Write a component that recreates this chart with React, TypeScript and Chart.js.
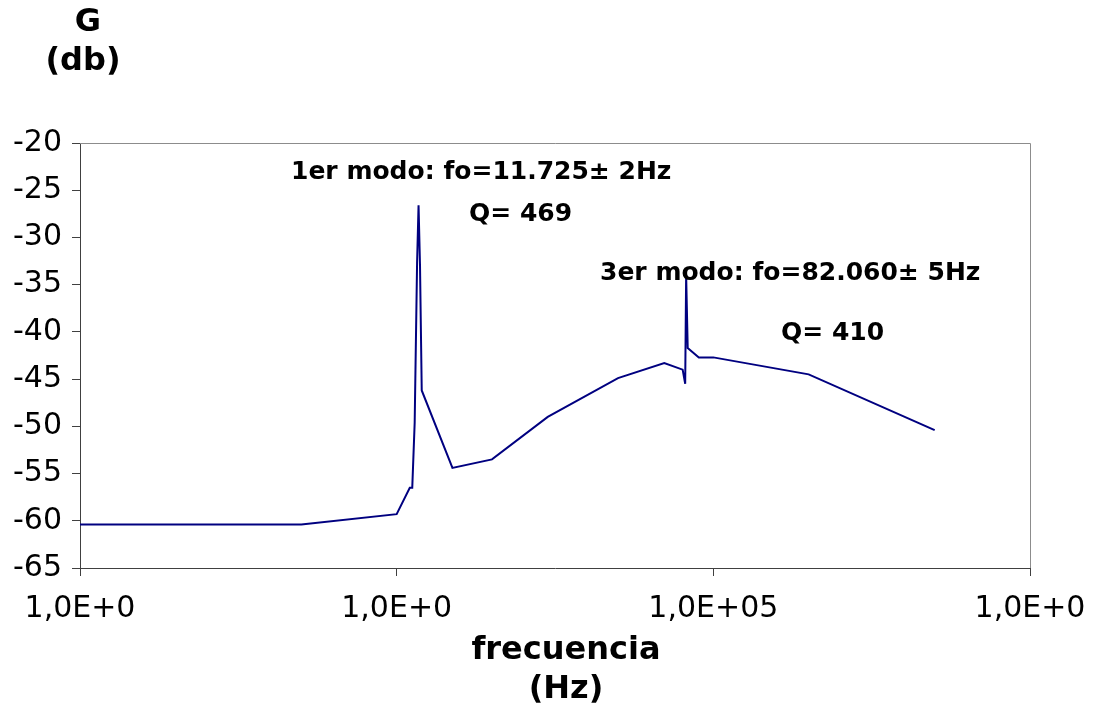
import React, { useEffect, useRef } from "react";
import { Chart, registerables } from "chart.js";

Chart.register(...registerables);

const freqHz = [1000, 5000, 10000, 11000, 11200, 11400, 11600, 11725, 11850, 12000, 15000, 20000, 30000, 50000, 70000, 80000, 81500, 82060, 83000, 90000, 100000, 200000, 500000];
const gainDb = [-60.4, -60.4, -59.3, -56.5, -56.5, -49.6, -32.7, -26.6, -33.0, -46.2, -54.4, -53.5, -49.0, -44.9, -43.3, -44.0, -45.5, -34.0, -41.7, -42.7, -42.7, -44.5, -50.4];
const xTickValues = [1e3, 1e4, 1e5, 1e6];
const xTickLabels = ["1,0E+0", "1,0E+0", "1,0E+05", "1,0E+0"];
const yTitleLines = ["G", "(db)"];
const xTitleLines = ["frecuencia", "(Hz)"];
const noteTexts = ["1er modo: fo=11.725± 2Hz", "Q= 469", "3er modo: fo=82.060± 5Hz", "Q= 410"];

const FONT = "'DejaVu Sans', Verdana, sans-serif";

export default function App() {
  const ref = useRef<HTMLCanvasElement | null>(null);
  useEffect(() => {
    const canvas = ref.current;
    if (!canvas) return;
    const textPlugin = {
      id: "texts",
      afterDraw(chart: any) {
        const ctx = chart.ctx;
        const a = chart.chartArea;
        ctx.save();
        ctx.strokeStyle = "#8c8c8c";
        ctx.lineWidth = 1;
        ctx.beginPath();
        ctx.moveTo(a.left, a.top + 0.5);
        ctx.lineTo(a.right + 0.5, a.top + 0.5);
        ctx.lineTo(a.right + 0.5, a.bottom);
        ctx.stroke();
        ctx.fillStyle = "#000";
        ctx.textBaseline = "middle";
        ctx.textAlign = "center";
        ctx.font = `bold 32px ${FONT}`;
        ctx.fillText(yTitleLines[0], 88, 23);
        ctx.fillText(yTitleLines[1], 83, 62);
        ctx.fillText(xTitleLines[0], 566, 651);
        ctx.fillText(xTitleLines[1], 566, 690);
        ctx.textAlign = "left";
        ctx.font = `bold 25px ${FONT}`;
        ctx.fillText(noteTexts[0], 291, 172);
        ctx.fillText(noteTexts[1], 469, 214);
        ctx.fillText(noteTexts[2], 600, 273);
        ctx.fillText(noteTexts[3], 781, 333);
        ctx.restore();
      },
    };
    const chart = new Chart(canvas, {
      type: "line",
      data: {
        datasets: [
          {
            data: freqHz.map((f, i) => ({ x: f, y: gainDb[i] })),
            borderColor: "#000080",
            borderWidth: 2,
            pointRadius: 0,
            fill: false,
            tension: 0,
          },
        ],
      },
      options: {
        animation: false,
        responsive: false,
        devicePixelRatio: 1,
        layout: { padding: { top: 143, right: 73, bottom: 0, left: 0 } },
        plugins: { legend: { display: false }, tooltip: { enabled: false } },
        scales: {
          x: {
            type: "logarithmic",
            min: 1000,
            max: 1000000,
            afterBuildTicks: (s: any) => {
              s.ticks = xTickValues.map((v) => ({ value: v }));
            },
            afterFit: (s: any) => {
              s.height = 142;
            },
            grid: { drawOnChartArea: false, tickLength: 8, color: "#404040" },
            border: { color: "#404040", width: 1 },
            ticks: {
              autoSkip: false,
              maxRotation: 0,
              padding: 15,
              color: "#000",
              font: { family: FONT, size: 30 },
              callback: (_v: any, i: number) => xTickLabels[i],
            },
          },
          y: {
            min: -65,
            max: -20,
            afterFit: (s: any) => {
              s.width = 80;
            },
            grid: { drawOnChartArea: false, tickLength: 8, color: "#404040" },
            border: { color: "#404040", width: 1 },
            ticks: {
              stepSize: 5,
              padding: 10,
              color: "#000",
              font: { family: FONT, size: 30 },
              callback: (v: any) => String(v),
            },
          },
        },
      },
      plugins: [textPlugin],
    } as any);
    return () => chart.destroy();
  }, []);
  return (
    <div style={{ position: "absolute", left: 0, top: 0, width: 1103, height: 710, background: "#fff" }}>
      <canvas ref={ref} width={1103} height={710} />
    </div>
  );
}
